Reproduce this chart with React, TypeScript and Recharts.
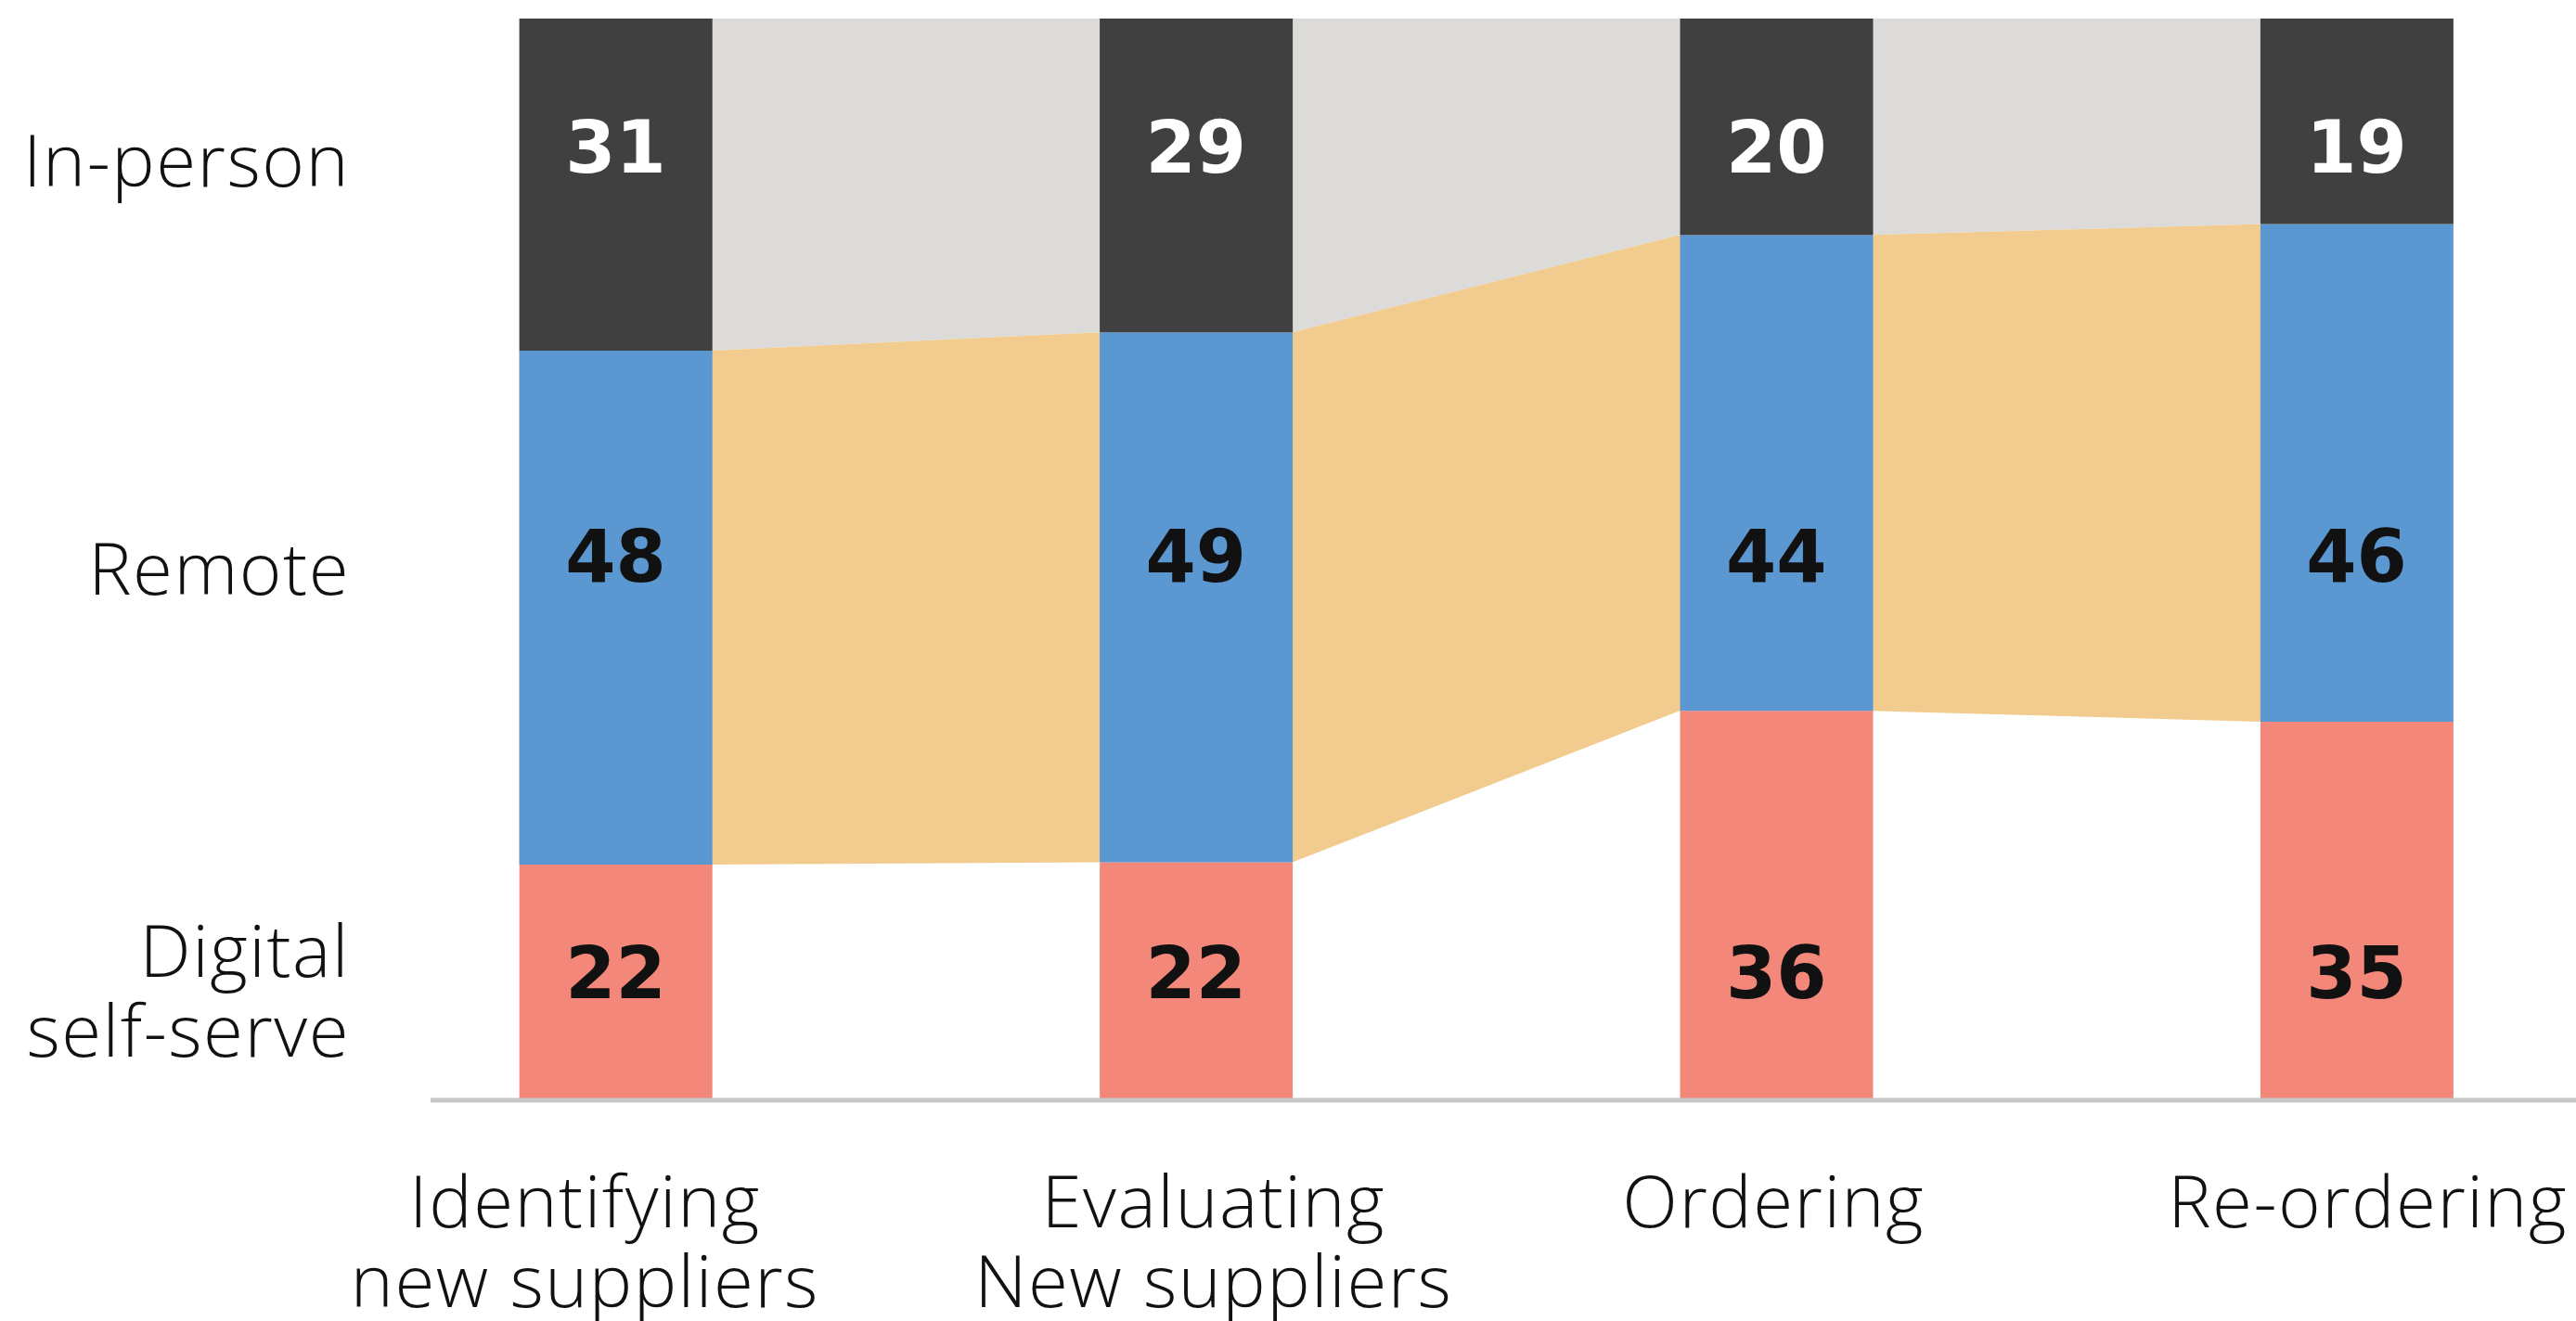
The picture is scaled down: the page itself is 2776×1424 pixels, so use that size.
import React from 'react';
import { ComposedChart, Bar, Area, Scatter, XAxis, YAxis } from 'recharts';

// ---------- data ----------
const categories: string[][] = [
  ['Identifying', 'new suppliers'],
  ['Evaluating', 'New suppliers'],
  ['Ordering'],
  ['Re-ordering'],
];
const inPerson = [31, 29, 20, 19];
const remote = [48, 49, 44, 46];
const digital = [22, 22, 36, 35];
const channelLabels: string[][] = [['In-person'], ['Remote'], ['Digital', 'self-serve']];

// ---------- layout / style constants ----------
const W = 2776;
const H = 1424;
const PLOT_LEFT = 464;
const PLOT_TOP = 20;
const PLOT_BOTTOM = 1186;
const FIRST_CENTER = 663.4;
const STEP = 625.4;
const BAR_W = 208;
const X_MIN = -(FIRST_CENTER - PLOT_LEFT) / STEP;
const X_MAX = X_MIN + (W - PLOT_LEFT) / STEP;
const HALF = BAR_W / 2 / STEP;

const Y_LABEL_ROWS = [86.9, 49.1, 10.1];
const VALUE_ROWS = [88.2, 50.4, 11.9];
const TICK_NUDGE = [-33, 19, -3, 12];

const C_DARK = '#404040';
const C_BLUE = '#5b98d2';
const C_RED = '#f3887a';
const C_GREY = '#dcdbda';
const C_ORANGE = '#f2cb8f';
const C_AXIS = '#c6c6c8';
const LABEL_FONT = "'Open Sans', 'Noto Sans', sans-serif";
const LABEL_SIZE = 78;
const LABEL_SPACING = 1.5;
const NUM_FONT = "'DejaVu Sans', sans-serif";

// ---------- tables built from the data ----------
const barData = categories.map((_, i) => {
  const total = inPerson[i] + remote[i] + digital[i];
  return {
    x: i,
    red: (digital[i] / total) * 100,
    blue: (remote[i] / total) * 100,
    dark: (inPerson[i] / total) * 100,
  };
});

const ribbonData = barData.flatMap((d) => {
  const lo = d.red;
  const mid = d.red + d.blue;
  const row = { grey: [mid, 100], orange: [lo, mid] };
  return [
    { x: d.x - HALF, ...row },
    { x: d.x + HALF, ...row },
  ];
});

const valueSeries = [inPerson, remote, digital].map((arr, r) =>
  arr.map((v, i) => ({ x: i, y: VALUE_ROWS[r], v }))
);
const valueColors = ['#ffffff', '#111111', '#111111'];

// ---------- custom renderers ----------
const XTick = (props: any) => {
  const { x, y, payload } = props;
  const idx = Math.round(payload.value);
  const lines = categories[idx] || [];
  return (
    <g>
      {lines.map((l, k) => (
        <text
          key={k}
          x={x + (TICK_NUDGE[idx] || 0)}
          y={y + 137 + k * 86}
          textAnchor="middle"
          fontFamily={LABEL_FONT}
          fontWeight={300}
          fontSize={LABEL_SIZE}
          letterSpacing={LABEL_SPACING}
          fill="#111"
        >
          {l}
        </text>
      ))}
    </g>
  );
};

const YTick = (props: any) => {
  const { x, y, index } = props;
  const lines = channelLabels[index] || [];
  const startBase = y + 28 - ((lines.length - 1) * 86) / 2;
  return (
    <g>
      {lines.map((l, k) => (
        <text
          key={k}
          x={x - 87}
          y={startBase + k * 86}
          textAnchor="end"
          fontFamily={LABEL_FONT}
          fontWeight={300}
          fontSize={LABEL_SIZE}
          letterSpacing={LABEL_SPACING}
          fill="#111"
        >
          {l}
        </text>
      ))}
    </g>
  );
};

const makeValueShape = (color: string) => (props: any) => {
  const cx = props.cx ?? (props.x + (props.width || 0) / 2);
  const cy = props.cy ?? (props.y + (props.height || 0) / 2);
  const v = props.payload ? props.payload.v : '';
  return (
    <text
      x={cx}
      y={cy + 28.5}
      textAnchor="middle"
      fontFamily={NUM_FONT}
      fontWeight={700}
      fontSize={78}
      fill={color}
    >
      {v}
    </text>
  );
};

export default function App() {
  return (
    <div style={{ position: 'absolute', left: 0, top: 0, width: W, height: H, background: '#fff' }}>
      <ComposedChart
        width={W}
        height={H}
        data={barData}
        margin={{ top: PLOT_TOP, right: 0, bottom: 0, left: 0 }}
      >
        <XAxis
          xAxisId="ax"
          type="number"
          dataKey="x"
          domain={[X_MIN, X_MAX]}
          allowDataOverflow
          height={0}
          hide
        />
        <YAxis
          type="number"
          domain={[0, 100]}
          allowDataOverflow
          ticks={Y_LABEL_ROWS}
          interval={0}
          width={PLOT_LEFT}
          axisLine={false}
          tickLine={false}
          tickSize={0}
          tickMargin={0}
          tick={<YTick />}
        />
        <Area
          xAxisId="ax"
          data={ribbonData}
          dataKey="grey"
          type="linear"
          stroke="none"
          fill={C_GREY}
          fillOpacity={1}
          dot={false}
          activeDot={false}
          isAnimationActive={false}
        />
        <Area
          xAxisId="ax"
          data={ribbonData}
          dataKey="orange"
          type="linear"
          stroke="none"
          fill={C_ORANGE}
          fillOpacity={1}
          dot={false}
          activeDot={false}
          isAnimationActive={false}
        />
        <Bar xAxisId="bx" dataKey="red" stackId="s" fill={C_RED} barSize={BAR_W} isAnimationActive={false} />
        <Bar xAxisId="bx" dataKey="blue" stackId="s" fill={C_BLUE} barSize={BAR_W} isAnimationActive={false} />
        <Bar xAxisId="bx" dataKey="dark" stackId="s" fill={C_DARK} barSize={BAR_W} isAnimationActive={false} />
        {valueSeries.map((s, r) => (
          <Scatter
            key={r}
            xAxisId="ax"
            data={s}
            dataKey="y"
            shape={makeValueShape(valueColors[r])}
            isAnimationActive={false}
          />
        ))}
        <XAxis
          xAxisId="bx"
          type="number"
          dataKey="x"
          domain={[X_MIN, X_MAX]}
          allowDataOverflow
          ticks={[0, 1, 2, 3]}
          interval={0}
          height={H - PLOT_BOTTOM}
          tickLine={false}
          tickSize={0}
          tickMargin={0}
          axisLine={{ stroke: C_AXIS, strokeWidth: 5 }}
          tick={<XTick />}
        />
      </ComposedChart>
    </div>
  );
}
